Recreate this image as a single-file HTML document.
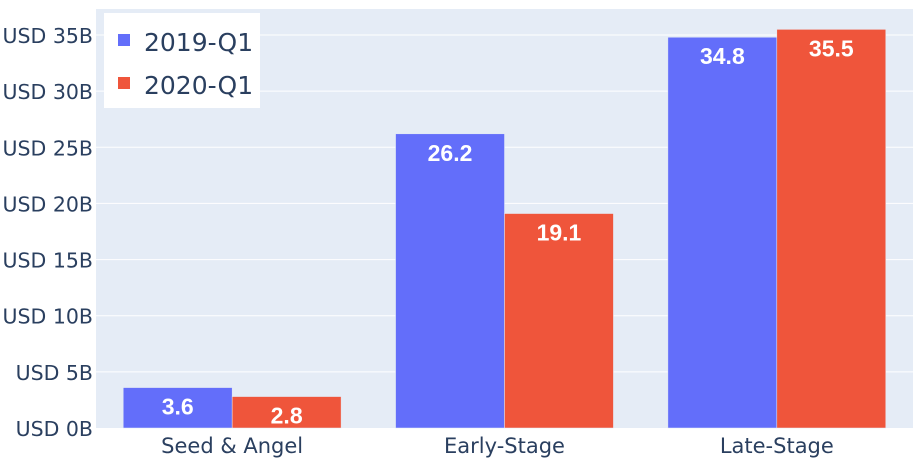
<!DOCTYPE html>
<html><head><meta charset="utf-8"><style>
body{margin:0;background:#fff;}
svg{display:block;font-family:"DejaVu Sans","Liberation Sans",sans-serif;}
</style></head><body>
<svg id="chart" width="915" height="464"></svg>
<script>
const categories=["Seed & Angel","Early-Stage","Late-Stage"];
const series2019=[3.6,26.2,34.8];
const series2020=[2.8,19.1,35.5];
const seriesNames=["2019-Q1","2020-Q1"];
const tickValues=[0,5,10,15,20,25,30,35];
const tickLabels=["USD 0B","USD 5B","USD 10B","USD 15B","USD 20B","USD 25B","USD 30B","USD 35B"];
const colors=["#636efa","#ef553b"];
const NS="http://www.w3.org/2000/svg";
const svg=document.getElementById('chart');
const L=96,R=913,T=9,B=428;
const y=v=>B-v*(393/35);
const band=(R-L)/categories.length;
function mk(tag,attrs,parent){const e=document.createElementNS(NS,tag);for(const k in attrs)e.setAttribute(k,attrs[k]);(parent||svg).appendChild(e);return e;}
const bg=mk('rect',{x:L,y:T,width:R-L,height:B-T,fill:'#e5ecf6'});


tickValues.forEach((v,i)=>{
  if(v>0){const g=mk('line',{x1:L,x2:R,y1:y(v),y2:y(v),stroke:'#fff','stroke-width':1});
  
  }
  const t=mk('text',{x:L-3,y:y(v)+8,'text-anchor':'end','font-size':'20.5',fill:'#2a3f5f'});
  t.textContent=tickLabels[i];
  
  
});
const bw=band*0.4;
[series2019,series2020].forEach((s,si)=>{
  s.forEach((v,ci)=>{
    const x0=L+band*ci+band*0.1+si*bw;
    const r=mk('rect',{x:x0,y:y(v),width:bw,height:B-y(v),fill:colors[si],stroke:'#e5ecf6','stroke-width':0.5});
    
    
    const t=mk('text',{x:x0+bw/2,y:y(v)+27,'text-anchor':'middle','font-size':'23','font-weight':'bold',fill:'#fff','font-family':'Liberation Sans, sans-serif'});
    t.textContent=v.toFixed(1);
    
    
  });
});
categories.forEach((c,ci)=>{
  const t=mk('text',{x:L+band*(ci+0.5),y:453,'text-anchor':'middle','font-size':'21',fill:'#2a3f5f'});
  t.textContent=c;
  
  
});
const lg=mk('g',{});


mk('rect',{x:104,y:13,width:156,height:95,fill:'#fff'},lg);
seriesNames.forEach((n,i)=>{
  const sw=mk('rect',{x:118,y:34+i*43,width:12,height:12,fill:colors[i]},lg);
  
  
  const t=mk('text',{x:144,y:51+i*43,'font-size':'25',fill:'#2a3f5f'},lg);
  t.textContent=n;
  
  
});
</script>
</body></html>
